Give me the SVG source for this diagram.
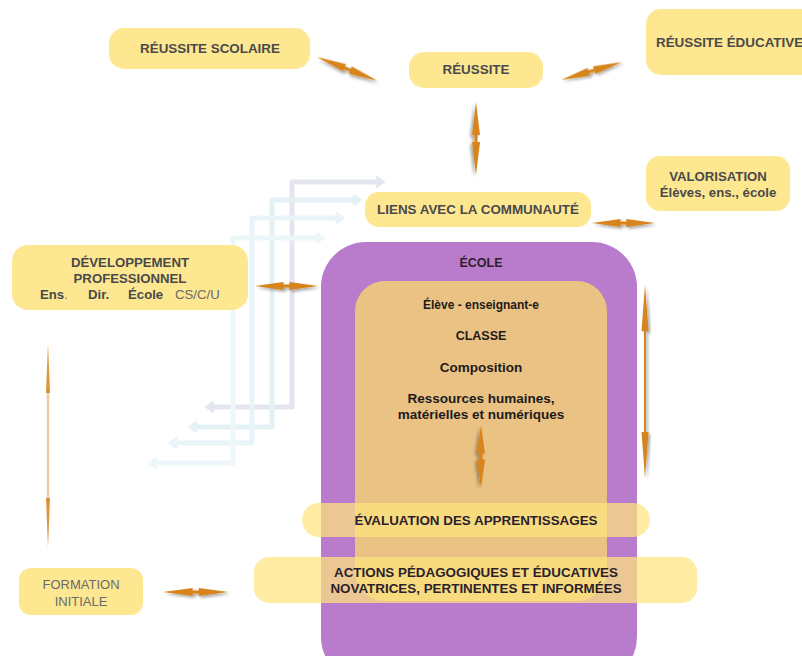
<svg xmlns="http://www.w3.org/2000/svg" width="802" height="656" viewBox="0 0 802 656">
<style>
.node{fill:#fee791}
.ov{fill:#fde57e;opacity:0.72}
.t{font-family:"Liberation Sans",Arial,sans-serif;font-weight:bold;fill:#4a4a4a;text-anchor:middle}
.n{font-family:"Liberation Sans",Arial,sans-serif;font-weight:normal;fill:#6a6a6a;text-anchor:middle}
.d{fill:#2c1f2c}
.arr{fill:#d8841a;filter:url(#sh)}
.pipe{fill:none;stroke-width:5;stroke-linejoin:round}
</style>
<defs>
<filter id="sh" x="-30%" y="-100%" width="160%" height="300%">
<feDropShadow dx="2" dy="2" stdDeviation="1.5" flood-color="#000" flood-opacity="0.35"/>
</filter>
<path id="dbl" d="M0,0 L29,-4 L29,-1.5 L35,-1.5 L35,-4 L64,0 L35,4 L35,1.5 L29,1.5 L29,4 Z"/>
</defs>
<rect width="802" height="656" fill="#ffffff"/>

<g id="pipes" opacity="0.9">
<path class="pipe" stroke="#e0e4ed" d="M380,182 L292,182 L292,407 L210,407"/>
<path class="pipe" stroke="#e0f0f5" d="M357,200 L272,200 L272,427 L193,427"/>
<path class="pipe" stroke="#e6f4f8" d="M340,218 L252,218 L252,443 L173,443"/>
<path class="pipe" stroke="#ecf6f9" d="M320,238 L233,238 L233,463 L153,463"/>
<path fill="none" stroke="#e0e4ed" stroke-width="3" d="M376,177 L383,182 L376,187 M214,402 L207,407 L214,412"/>
<path fill="none" stroke="#e0f0f5" stroke-width="3" d="M353,195 L360,200 L353,205 M197,422 L190,427 L197,432"/>
<path fill="none" stroke="#e6f4f8" stroke-width="3" d="M336,213 L343,218 L336,223 M177,438 L170,443 L177,448"/>
<path fill="none" stroke="#ecf6f9" stroke-width="3" d="M316,233 L323,238 L316,243 M157,458 L150,463 L157,468"/>
</g>

<g id="ecole">
<rect x="321" y="242" width="316" height="440" rx="45" fill="#b97bcb"/>
<text class="t d" x="481" y="267" font-size="12.5">ÉCOLE</text>
</g>

<g id="classe">
<rect x="355" y="281" width="252" height="320" rx="30" fill="#eac283"/>
<text class="t" style="fill:#1e1a1a" x="481" y="309" font-size="12">Élève - enseignant-e</text>
<text class="t" style="fill:#1e1a1a" x="481" y="340" font-size="12.5">CLASSE</text>
<text class="t" style="fill:#1e1a1a" x="481" y="372" font-size="13.5">Composition</text>
<text class="t" style="fill:#1e1a1a" x="481" y="403" font-size="13.5">Ressources humaines,</text>
<text class="t" style="fill:#1e1a1a" x="481" y="419" font-size="13.5">matérielles et numériques</text>
</g>

<g id="reussite-scolaire">
<rect class="node" x="109" y="28" width="201" height="41" rx="15"/>
<text class="t" x="210" y="53" font-size="13.4">RÉUSSITE SCOLAIRE</text>
</g>

<g id="reussite">
<rect class="node" x="409" y="52" width="134" height="36" rx="15"/>
<text class="t" x="476" y="74" font-size="13.4">RÉUSSITE</text>
</g>

<g id="reussite-educative">
<rect class="node" x="646" y="9" width="180" height="66" rx="15"/>
<text class="t" x="656" y="47" font-size="13.4" style="text-anchor:start">RÉUSSITE ÉDUCATIVE</text>
</g>

<g id="liens">
<rect class="node" x="365" y="192" width="226" height="35" rx="14"/>
<text class="t" x="478" y="214" font-size="13.4">LIENS AVEC LA COMMUNAUTÉ</text>
</g>

<g id="valorisation">
<rect class="node" x="646" y="156" width="144" height="55" rx="14"/>
<text class="t" x="718" y="181" font-size="13.2">VALORISATION</text>
<text class="t" x="718" y="197" font-size="13.2">Élèves, ens., école</text>
</g>

<g id="dev-pro">
<rect class="node" x="12" y="245" width="236" height="65" rx="16"/>
<text class="t" x="130" y="267" font-size="13.2">DÉVELOPPEMENT</text>
<text class="t" x="130" y="283" font-size="13.2">PROFESSIONNEL</text>
<text class="t" x="40" y="299" font-size="13.2" style="text-anchor:start">Ens<tspan style="font-weight:normal;fill:#777">.</tspan></text>
<text class="t" x="88" y="299" font-size="13.2" style="text-anchor:start">Dir.</text>
<text class="t" x="128" y="299" font-size="13.2" style="text-anchor:start">École</text>
<text class="n" x="175" y="299" font-size="13.2" style="text-anchor:start">CS/C/U</text>
</g>

<g id="formation">
<rect class="node" x="19" y="568" width="124" height="47" rx="12"/>
<text class="n" x="81" y="589" font-size="13">FORMATION</text>
<text class="n" x="81" y="606" font-size="13">INITIALE</text>
</g>

<g id="evaluation">
<rect class="ov" x="302" y="503" width="348" height="34" rx="17"/>
<text class="t d" x="476" y="525" font-size="13.4">ÉVALUATION DES APPRENTISSAGES</text>
</g>

<g id="actions">
<rect class="ov" x="254" y="557" width="443" height="46" rx="15"/>
<text class="t d" x="476" y="577" font-size="13.4">ACTIONS PÉDAGOGIQUES ET ÉDUCATIVES</text>
<text class="t d" x="476" y="593" font-size="13.4">NOVATRICES, PERTINENTES ET INFORMÉES</text>
</g>

<g id="connectors">
<use href="#dbl" class="arr" transform="translate(317,57) rotate(21.5) scale(1.02,1)"/>
<use href="#dbl" class="arr" transform="translate(561,80) rotate(-16.4) scale(0.99,1)"/>
<use href="#dbl" class="arr" transform="translate(476,102) rotate(90) scale(1.14,1)"/>
<use href="#dbl" class="arr" transform="translate(592,223) scale(0.98,1)"/>
<use href="#dbl" class="arr" transform="translate(255,286) scale(0.98,1)"/>
<use href="#dbl" class="arr" transform="translate(481,425) rotate(90) scale(0.98,1)"/>
<use href="#dbl" class="arr" transform="translate(163,592) scale(1.02,1)"/>
<path class="arr" d="M645,285 L648.5,331 L646,331 L646,432 L648.5,432 L645,478 L641.5,432 L644,432 L644,331 L641.5,331 Z"/>
<line x1="48" y1="390" x2="48" y2="502" stroke="#eccba2" stroke-width="2.5"/>
<path fill="#d8841a" opacity="0.85" d="M48,343 L50,393 L46,393 Z M48,548 L50,498 L46,498 Z"/>
</g>
</svg>
